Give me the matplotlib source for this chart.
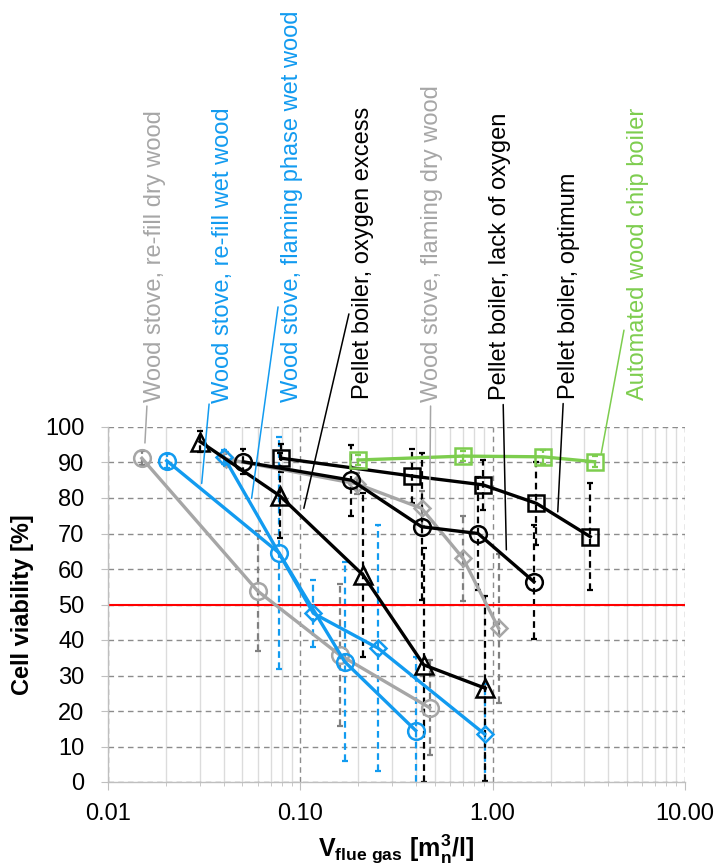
import matplotlib
matplotlib.use('Agg')
import matplotlib.pyplot as plt
from matplotlib import rcParams, ticker

rcParams['font.family'] = ['Liberation Sans', 'DejaVu Sans']
rcParams['mathtext.fontset'] = 'custom'
rcParams['mathtext.rm'] = 'Liberation Sans:bold'
rcParams['mathtext.it'] = 'Liberation Sans:bold'
rcParams['mathtext.bf'] = 'Liberation Sans:bold'

# ---- data ----
# Wood stove, re-fill dry wood (grey circles)
refill_dry_x = [0.015, 0.060, 0.160, 0.471]
refill_dry_y = [91.2, 53.8, 35.8, 20.9]
refill_dry_err = [2.0, 17.0, 20.0, 13.4]

# Wood stove, re-fill wet wood (blue circles)
refill_wet_x = [0.0202, 0.0773, 0.170, 0.398]
refill_wet_y = [90.5, 64.6, 33.9, 14.5]
refill_wet_err = [2.0, 32.7, 28.0, 20.7]

# Wood stove, flaming phase wet wood (blue diamonds)
flaming_wet_x = [0.040, 0.117, 0.2535, 0.908]
flaming_wet_y = [91.6, 47.5, 37.7, 13.5]
flaming_wet_err = [2.0, 9.5, 34.7, 14.0]

# Wood stove, flaming dry wood (grey diamonds)
flaming_dry_x = [0.041, 0.196, 0.427, 0.701, 1.074]
flaming_dry_y = [91.0, 84.0, 77.1, 63.0, 43.3]
flaming_dry_err = [2.0, 3.0, 5.0, 12.0, 21.0]

# Pellet boiler, oxygen excess (black triangles)
oxy_excess_x = [0.0301, 0.0783, 0.212, 0.438, 0.916]
oxy_excess_y = [95.9, 80.6, 58.3, 33.0, 26.4]
oxy_excess_err = [3.0, 12.0, 23.0, 33.0, 26.0]

# Pellet boiler, lack of oxygen (black circles)
oxy_lack_x = [0.0505, 0.1845, 0.427, 0.839, 1.64]
oxy_lack_y = [90.2, 85.0, 71.9, 70.0, 56.4]
oxy_lack_err = [3.5, 10.0, 20.7, 16.0, 16.0]

# Pellet boiler, optimum (black squares)
optimum_x = [0.0798, 0.379, 0.891, 1.687, 3.217]
optimum_y = [91.2, 86.2, 83.7, 78.5, 69.1]
optimum_err = [4.0, 7.5, 7.0, 11.7, 15.0]

# Automated wood chip boiler (green squares)
chip_x = [0.1995, 0.701, 1.825, 3.388]
chip_y = [90.7, 91.8, 91.6, 90.2]
chip_err = [1.5, 1.5, 2.0, 1.5]

label_texts = ['Wood stove, re-fill dry wood',
               'Wood stove, re-fill wet wood',
               'Wood stove, flaming phase wet wood',
               'Pellet boiler, oxygen excess',
               'Wood stove, flaming dry wood',
               'Pellet boiler, lack of oxygen',
               'Pellet boiler, optimum',
               'Automated wood chip boiler']
# where each leader line points to (data coordinates)
label_tip_x = [0.01556, 0.0307, 0.0558, 0.1043, 0.471, 1.178, 2.18, 3.67]
label_tip_y = [95.5, 84.1, 79.9, 77.1, 79.9, 65.4, 76.1, 92.6]

limit_value = 50

# ---- styles ----
GREY = '#a6a6a6'
GREY_ERR = '#808080'
BLUE = '#129bf0'
GREEN = '#7dcd4e'
BLACK = '#000000'

series = [
    (refill_dry_x, refill_dry_y, refill_dry_err, 'o', GREY, GREY_ERR, 12),
    (flaming_dry_x, flaming_dry_y, flaming_dry_err, 'D', GREY, GREY_ERR, 8.5),
    (refill_wet_x, refill_wet_y, refill_wet_err, 'o', BLUE, BLUE, 12),
    (flaming_wet_x, flaming_wet_y, flaming_wet_err, 'D', BLUE, BLUE, 8.5),
    (oxy_excess_x, oxy_excess_y, oxy_excess_err, '^', BLACK, BLACK, 13),
    (oxy_lack_x, oxy_lack_y, oxy_lack_err, 'o', BLACK, BLACK, 12),
    (optimum_x, optimum_y, optimum_err, 's', BLACK, BLACK, 11.5),
    (chip_x, chip_y, chip_err, 's', GREEN, GREEN, 11),
]
label_colors = [GREY, BLUE, BLUE, BLACK, GREY, BLACK, BLACK, GREEN]
# text centre x and top y in image pixels (origin top-left)
label_pos = [(155, 110), (223, 107), (292, 10), (363, 107),
             (432, 85), (500, 113), (569, 173), (638, 108)]

W, H = 720, 865
fig = plt.figure(figsize=(W / 100, H / 100), dpi=100)
ax = fig.add_axes([108 / W, 1 - 782 / H, (685 - 108) / W, (782 - 427) / H])

ax.set_xscale('log')
ax.set_xlim(0.01, 10)
ax.set_ylim(0, 100)

# grid
ax.grid(which='major', axis='both', color='#8c8c8c', ls=(0, (4, 3)), lw=1, zorder=0)
ax.grid(which='minor', axis='x', color='#dcdcdc', ls='-', lw=1, zorder=0)
ax.set_axisbelow(True)

for x, y, err, mk, col, ecol, ms in series:
    eb = ax.errorbar(x, y, yerr=err, fmt='none', ecolor=ecol, elinewidth=1.6,
                     capsize=2.5, capthick=1.6, zorder=2)
    eb[2][0].set_linestyle((0, (3, 2)))
    ax.plot(x, y, marker=mk, color=col, lw=2.4, ms=ms, mfc='none', mew=1.8, zorder=3)

ax.axhline(limit_value, color='#ff0000', lw=1.5, zorder=2.5)

for i, txt in enumerate(label_texts):
    px, py = label_pos[i]
    ax.annotate(txt, xy=(label_tip_x[i], label_tip_y[i]), xycoords='data',
                xytext=(px, H - py), textcoords='figure pixels',
                rotation=90, ha='center', va='top', fontsize=17,
                color=label_colors[i],
                arrowprops=dict(arrowstyle='-', color=label_colors[i], lw=1.1,
                                shrinkA=1, shrinkB=0),
                annotation_clip=False)

# axes cosmetics
for s in ['top', 'right']:
    ax.spines[s].set_visible(False)
for s in ['left', 'bottom']:
    ax.spines[s].set_color('#bfbfbf')
    ax.spines[s].set_linewidth(1)

ax.set_yticks(range(0, 101, 10))
ax.xaxis.set_major_locator(ticker.LogLocator(base=10, numticks=10))
ax.xaxis.set_minor_locator(ticker.LogLocator(base=10, subs=range(2, 10), numticks=10))
ax.xaxis.set_major_formatter(ticker.FuncFormatter(lambda v, p: f'{v:.2f}'))
ax.xaxis.set_minor_formatter(ticker.NullFormatter())
ax.tick_params(axis='y', which='major', length=5, color='#bfbfbf', pad=12, labelsize=17)
ax.tick_params(axis='x', which='major', length=6, color='#bfbfbf', pad=9, labelsize=17)
ax.tick_params(axis='x', which='minor', length=3, color='#bfbfbf')

ax.set_ylabel('Cell viability [%]', fontsize=17, fontweight='bold', labelpad=8)
ax.set_xlabel(r'$\mathbf{V_{flue\ gas}\ [m_n^3/l]}$', fontsize=18, labelpad=6)

fig.savefig('out.png', dpi=100)
